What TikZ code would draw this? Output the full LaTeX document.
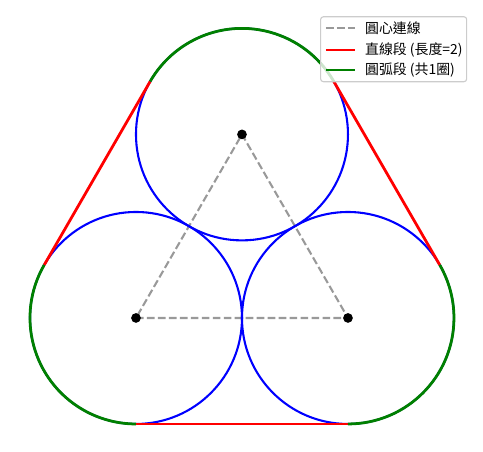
\documentclass[tikz,border=0pt]{standalone}
\usepackage{fontspec}
\usepackage{xcolor}
\usepackage{tikz}
\usetikzlibrary{calc}
\newfontfamily\cjk{Noto Sans CJK TC}
\definecolor{circ}{HTML}{0000FF}
\definecolor{seg}{HTML}{FF0000}
\definecolor{arcg}{HTML}{008000}
\definecolor{link}{HTML}{999999}
\definecolor{frame}{HTML}{CCCCCC}
\tikzset{
  circle line/.style={draw=circ, line width=1.5pt},
  straight/.style={draw=seg, line width=2pt},
  arcpart/.style={draw=arcg, line width=2pt},
  centerlink/.style={draw=link, line width=1.5pt, dash pattern=on 5.5pt off 2.4pt},
  centerdot/.style={circle, fill=black, inner sep=0pt, minimum size=7pt},
  legbox/.style={draw=frame, line width=0.8pt, fill=white, fill opacity=0.8, rounded corners=2pt},
  legtext/.style={anchor=west, inner sep=0pt, font=\cjk\fontsize{10}{12}\selectfont},
}
\begin{document}
\begin{tikzpicture}[x=76.32pt, y=76.32pt]
  \useasboundingbox (-1.283,-1.264) rectangle (3.274,3.0);
  % centres
  \coordinate (A) at (0,0);
  \coordinate (B) at (2,0);
  \coordinate (C) at (1,{sqrt(3)});
  % tangent points
  \coordinate (A1) at ($(A)+(150:1)$);
  \coordinate (A2) at ($(A)+(270:1)$);
  \coordinate (B1) at ($(B)+(270:1)$);
  \coordinate (B2) at ($(B)+(30:1)$);
  \coordinate (C1) at ($(C)+(30:1)$);
  \coordinate (C2) at ($(C)+(150:1)$);

  \draw[centerlink] (A) -- (B) -- (C) -- cycle;

  \draw[circle line] (A) circle[radius=1];
  \draw[circle line] (B) circle[radius=1];
  \draw[circle line] (C) circle[radius=1];

  \draw[straight] (A2) -- (B1);
  \draw[straight] (B2) -- (C1);
  \draw[straight] (C2) -- (A1);
  \draw[arcpart] (A1) arc[start angle=150, end angle=270, radius=1];
  \draw[arcpart] (B1) arc[start angle=-90, end angle=30, radius=1];
  \draw[arcpart] (C1) arc[start angle=30, end angle=150, radius=1];

  \node[centerdot] (dA) at (A) {};
  \node[centerdot] (dB) at (B) {};
  \node[centerdot] (dC) at (C) {};

  % legend
  \draw[legbox] (1.742,2.229) rectangle (3.120,2.842);
  \coordinate (k1a) at (1.792,2.733); \coordinate (k1b) at (2.066,2.733);
  \coordinate (k2a) at (1.792,2.528); \coordinate (k2b) at (2.066,2.528);
  \coordinate (k3a) at (1.792,2.340); \coordinate (k3b) at (2.066,2.340);
  \draw[centerlink] (k1a) -- (k1b);
  \draw[straight] (k2a) -- (k2b);
  \draw[arcpart] (k3a) -- (k3b);
  \node[legtext] (t1) at (2.160,2.733) {圓心連線};
  \node[legtext] (t2) at (2.160,2.528) {直線段 (長度=2)};
  \node[legtext] (t3) at (2.160,2.340) {圓弧段 (共1圈)};
\end{tikzpicture}
\end{document}
